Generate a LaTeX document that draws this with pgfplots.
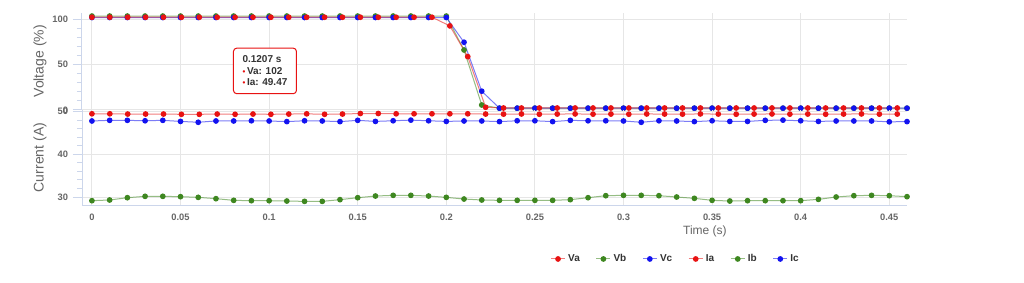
\documentclass[border=0pt]{standalone}
\usepackage{pgfplots}
\usepackage{pgfplotstable}
\pgfplotsset{compat=1.18}
\usepackage{fontspec}
\setmainfont{Liberation Sans}
\definecolor{cRed}{RGB}{232,18,18}
\definecolor{cBlue}{RGB}{18,18,240}
\definecolor{cGreen}{RGB}{62,135,32}
\definecolor{gridc}{HTML}{E6E6E6}
\definecolor{axc}{HTML}{CCD6EB}
\definecolor{labc}{HTML}{666666}
\definecolor{legc}{HTML}{333333}

\pgfplotstableread{
t Vb Vc Ib Ic
0.00 103.3 101.7 29.14 47.80
0.01 103.3 101.7 29.30 47.95
0.02 103.3 101.7 29.84 47.95
0.03 103.3 101.7 30.16 47.85
0.04 103.3 101.7 30.16 47.95
0.05 103.3 101.7 30.08 47.70
0.06 103.3 101.7 29.92 47.50
0.07 103.3 101.7 29.61 47.80
0.08 103.3 101.7 29.22 47.80
0.09 103.3 101.7 29.14 47.85
0.10 103.3 101.7 29.14 47.80
0.11 103.3 101.7 29.06 47.65
0.12 103.3 101.7 28.98 47.85
0.13 103.3 101.7 28.98 47.80
0.14 103.3 101.7 29.38 47.65
0.15 103.3 101.7 29.84 47.95
0.16 103.3 101.7 30.23 47.70
0.17 103.3 101.7 30.39 47.85
0.18 103.3 101.7 30.39 48.00
0.19 103.3 101.7 30.23 47.85
0.20 103.3 101.7 29.92 47.70
0.21 66.0 74.5 29.53 47.80
0.22 5.5 20.7 29.30 47.80
0.23 2.0 2.0 29.22 47.65
0.24 2.0 2.0 29.22 47.85
0.25 2.0 2.0 29.22 47.85
0.26 2.0 2.0 29.22 47.65
0.27 2.0 2.0 29.38 47.95
0.28 2.0 2.0 29.84 47.85
0.29 2.0 2.0 30.31 47.85
0.30 2.0 2.0 30.39 47.80
0.31 2.0 2.0 30.39 47.50
0.32 2.0 2.0 30.31 47.85
0.33 2.0 2.0 30.00 47.80
0.34 2.0 2.0 29.69 47.65
0.35 2.0 2.0 29.22 47.85
0.36 2.0 2.0 29.06 47.70
0.37 2.0 2.0 29.14 47.70
0.38 2.0 2.0 29.14 47.95
0.39 2.0 2.0 29.14 48.00
0.40 2.0 2.0 29.14 47.85
0.41 2.0 2.0 29.45 47.70
0.42 2.0 2.0 30.00 47.80
0.43 2.0 2.0 30.31 47.80
0.44 2.0 2.0 30.39 47.80
0.45 2.0 2.0 30.31 47.60
0.46 2.0 2.0 30.08 47.65
}\gridtab

\pgfplotstableread{
t Va Ia
0.0000 102 49.48
0.0101 102 49.48
0.0202 102 49.42
0.0303 102 49.42
0.0404 102 49.42
0.0505 102 49.36
0.0606 102 49.36
0.0707 102 49.42
0.0808 102 49.36
0.0909 102 49.42
0.1010 102 49.36
0.1111 102 49.42
0.1212 102 49.47
0.1313 102 49.36
0.1414 102 49.42
0.1515 102 49.55
0.1616 102 49.55
0.1717 102 49.48
0.1818 102 49.48
0.1919 102 49.48
0.2020 92.5 49.48
0.2121 58.7 49.48
0.2222 3.0 49.42
0.2323 2.2 49.40
0.2424 2.2 49.44
0.2525 2.2 49.38
0.2626 2.2 49.42
0.2727 2.2 49.45
0.2828 2.2 49.40
0.2929 2.2 49.42
0.3030 2.2 49.38
0.3131 2.2 49.44
0.3232 2.2 49.42
0.3333 2.2 49.40
0.3434 2.2 49.45
0.3535 2.2 49.42
0.3636 2.2 49.38
0.3737 2.2 49.42
0.3838 2.2 49.44
0.3939 2.2 49.40
0.4040 2.2 49.42
0.4141 2.2 49.38
0.4242 2.2 49.42
0.4343 2.2 49.45
0.4444 2.2 49.40
0.4545 2.2 49.42
}\redtab

\pgfplotsset{
  common/.style={
    scale only axis, width=618.75pt, xmin=-0.0056, xmax=0.46,
    xtick={0,0.05,0.1,0.15,0.2,0.25,0.3,0.35,0.4,0.45},
    grid=major, major grid style={gridc, line width=0.75pt},
    axis x line*=bottom, axis y line*=left,
    axis line style={axc, line width=0.75pt, -},
    tick align=outside,
    ytick style={axc, line width=0.75pt},
    minor tick style={axc, line width=0.75pt},
    xtick style={draw=none},
    major tick length=6.75pt, minor tick length=3.75pt,
    minor y tick num=4,
    ticklabel style={font=\bfseries\fontsize{7}{8}\selectfont, text=labc},
    yticklabel style={anchor=east, inner sep=0pt, xshift=-3.5pt},
    label style={font=\fontsize{10.5}{12}\selectfont, text=labc},
    ylabel style={at={(rel axis cs:-0.051,0.5)}, anchor=center},
  },
  ser/.style={color=#1, line width=0.75pt, draw opacity=0.55, mark=*, mark size=1.75pt,
    mark options={draw opacity=1, fill opacity=1, fill=#1, draw=#1}},
}

\begin{document}
\begin{tikzpicture}
\path[fill=white] (0,0) rectangle (768pt,211.5pt);
\begin{axis}[common, at={(61.5pt,129pt)}, anchor=south west, height=72.98pt,
  ymin=0, ymax=107, ytick={0,50,100}, yticklabels={0,50,100},
  xticklabels={}, x axis line style={draw=none},
  ylabel={Voltage (\%)}]
\addplot[ser=cGreen] table[x=t, y=Vb] {\gridtab};
\addplot[ser=cBlue] table[x=t, y=Vc] {\gridtab};
\addplot[ser=cRed] table[x=t, y=Va] {\redtab};
\node[draw=cRed, line width=0.75pt, rounded corners=2.5pt, fill=white, fill opacity=0.9, text opacity=1,
  anchor=north west, minimum width=47.25pt, minimum height=34.2pt, inner xsep=4pt, inner ysep=3pt,
  align=left, font=\bfseries\fontsize{7.5}{8.6}\selectfont, text=legc]
  at (axis cs:0.0796,68.6)
  {0.1207 s\\{\color{cRed}\fontsize{6}{8.6}\selectfont\textbullet}\,Va: 102\\{\color{cRed}\fontsize{6}{8.6}\selectfont\textbullet}\,Ia: 49.47};
\end{axis}
\begin{axis}[common, at={(61.5pt,57.75pt)}, anchor=south west, height=71.25pt,
  ymin=28.13, ymax=50.37, ytick={30,40,50}, yticklabels={30,40,50},
  xticklabels={0,0.05,0.1,0.15,0.2,0.25,0.3,0.35,0.4,0.45},
  xticklabel style={anchor=north, inner sep=0pt, yshift=0pt},
  ylabel={Current (A)},
  xlabel={Time (s)},
  xlabel style={at={(rel axis cs:0.755,-0.274)}, anchor=center, font=\fontsize{9}{10}\selectfont},
  legend columns=6,
  legend style={at={(0.72,-0.568)}, anchor=center, draw=none, fill=none,
    font=\bfseries\fontsize{7.5}{9}\selectfont, text=legc,
    /tikz/every even column/.append style={column sep=10pt}},
  legend image code/.code={\draw[mark repeat=2, mark phase=2, #1] plot coordinates {(0pt,0pt) (5.25pt,0pt) (10.5pt,0pt)};},
  ]
\addlegendimage{ser=cRed}
\addlegendentry{Va}
\addlegendimage{ser=cGreen}
\addlegendentry{Vb}
\addlegendimage{ser=cBlue}
\addlegendentry{Vc}
\addplot[ser=cRed] table[x=t, y=Ia] {\redtab};
\addlegendentry{Ia}
\addplot[ser=cGreen] table[x=t, y=Ib] {\gridtab};
\addlegendentry{Ib}
\addplot[ser=cBlue] table[x=t, y=Ic] {\gridtab};
\addlegendentry{Ic}
\end{axis}
\end{tikzpicture}
\end{document}
